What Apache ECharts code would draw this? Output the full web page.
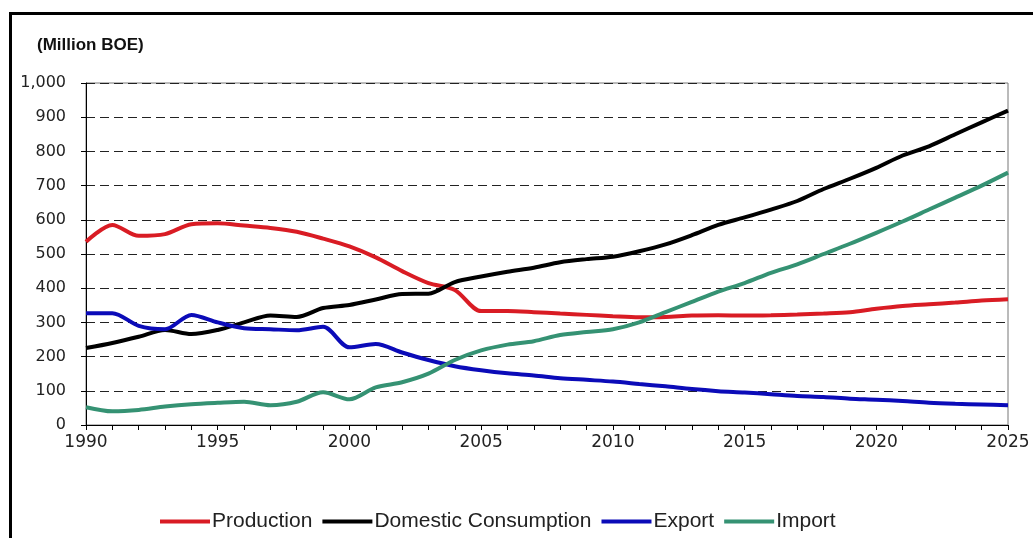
<!DOCTYPE html>
<html>
<head>
<meta charset="utf-8">
<script src="https://cdn.jsdelivr.net/npm/echarts@6/dist/echarts.min.js"></script>
<style>
  html, body { margin: 0; padding: 0; background: #fff; }
  #chart { width: 1033px; height: 538px; }
</style>
</head>
<body>
<div id="chart"></div>
<script>
// Years 1990–2025
const years = [];
for (let y = 1990; y <= 2025; y++) years.push(String(y));

// Million barrels of oil equivalent
const production = [536, 585, 553, 558, 587, 590, 583, 576, 565, 545, 522, 490,
  450, 415, 395, 333, 333, 330, 326, 322, 318, 315, 316, 320, 321, 320, 321, 323,
  326, 330, 340, 348, 353, 358, 364, 368];
const consumption = [225, 240, 258, 278, 266, 278, 300, 320, 316, 342, 351, 367,
  383, 384, 418, 434, 448, 460, 476, 485, 492, 508, 528, 555, 585, 607, 630, 655,
  690, 720, 752, 788, 815, 850, 885, 919];
const exportVals = [327, 327, 290, 280, 322, 300, 283, 280, 277, 287, 227, 237,
  212, 190, 172, 160, 151, 145, 137, 132, 127, 120, 113, 105, 99, 95, 90, 85,
  82, 77, 74, 70, 65, 62, 60, 58];
const importVals = [52, 40, 44, 54, 61, 65, 68, 58, 68, 96, 75, 110, 125, 150,
  190, 218, 235, 245, 263, 272, 280, 300, 330, 360, 390, 415, 445, 470, 500, 530,
  562, 595, 630, 665, 700, 738];

const seriesNames = ['Production', 'Domestic Consumption', 'Export', 'Import'];
const seriesColors = ['#d91c24', '#000000', '#0b0bb8', '#359273'];
const seriesData = [production, consumption, exportVals, importVals];

const axisFont = { fontFamily: 'DejaVu Sans', fontSize: 16, color: '#222' };

const chart = echarts.init(document.getElementById('chart'), null, { renderer: 'canvas' });
chart.setOption({
  backgroundColor: '#fff',
  animation: false,
  graphic: [
    {
      type: 'rect', left: 8, top: 11, z: -1,
      shape: { width: 1100, height: 600 },
      style: { fill: 'none', stroke: '#000', lineWidth: 3 }
    },
    {
      type: 'text', left: 37, top: 37,
      style: { text: '(Million BOE)', font: 'bold 17px "Liberation Sans"', fill: '#111' }
    }
  ],
  grid: {
    left: 86, right: 25, top: 83, bottom: 113,
    show: true, borderColor: '#777', borderWidth: 1, backgroundColor: 'transparent'
  },
  legend: {
    left: 155, top: 506,
    itemWidth: 50, itemHeight: 4, itemGap: 10,
    icon: 'rect',
    textStyle: { fontFamily: 'Liberation Sans', fontSize: 21, color: '#222', padding: [0, 0, 0, -3] },
    data: seriesNames
  },
  xAxis: {
    type: 'category',
    data: years,
    boundaryGap: false,
    axisLine: { lineStyle: { color: '#000', width: 1 } },
    axisTick: { show: true, interval: 0, length: 5, lineStyle: { color: '#000' } },
    axisLabel: Object.assign({ interval: 4, margin: 9 }, axisFont, { fontSize: 17 }),
    splitLine: { show: false }
  },
  yAxis: {
    type: 'value',
    min: 0, max: 1000, interval: 100,
    axisLine: { show: true, lineStyle: { color: '#000', width: 1 } },
    axisTick: { show: true, length: 5, lineStyle: { color: '#000' } },
    axisLabel: Object.assign({
      margin: 20,
      formatter: v => v.toLocaleString('en-US')
    }, axisFont),
    splitLine: { show: true, lineStyle: { color: '#222', type: [9, 5], width: 1 } }
  },
  series: seriesNames.map((name, i) => ({
    name: name,
    type: 'line',
    data: seriesData[i],
    smooth: 0.3,
    showSymbol: false,
    symbol: 'none',
    color: seriesColors[i],
    lineStyle: { color: seriesColors[i], width: 4 }
  }))
});
</script>
</body>
</html>
